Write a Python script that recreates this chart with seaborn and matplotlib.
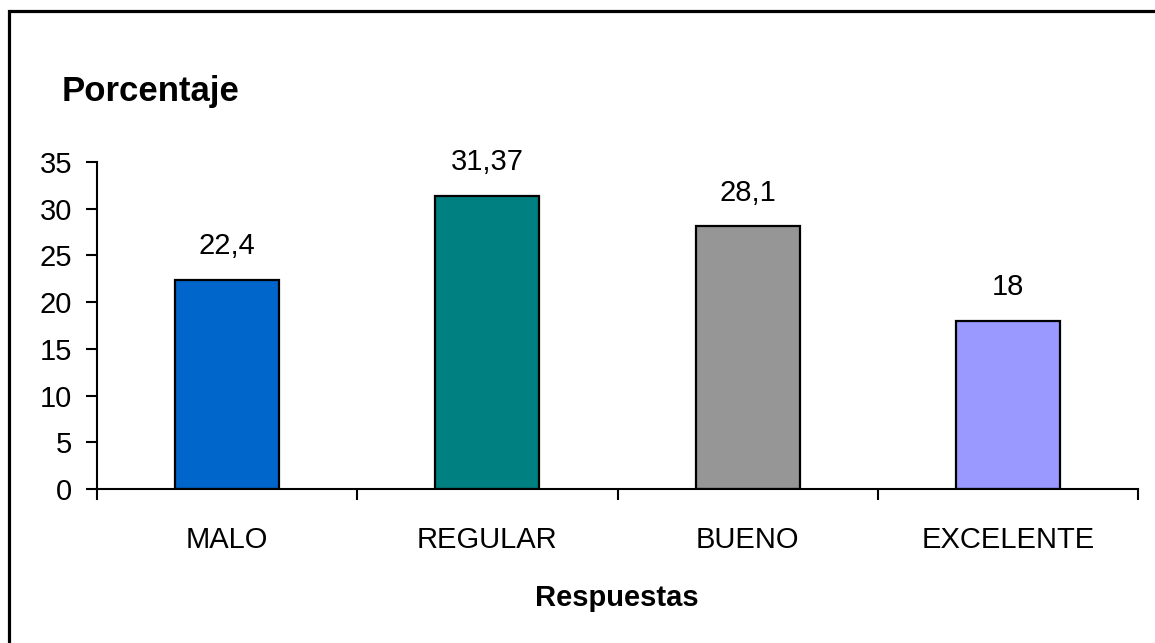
import matplotlib
matplotlib.use("Agg")
import matplotlib.pyplot as plt
import seaborn as sns
import pandas as pd
from matplotlib.patches import Rectangle
from matplotlib.ticker import FixedLocator, MultipleLocator

categories = ["MALO", "REGULAR", "BUENO", "EXCELENTE"]
values = [22.4, 31.37, 28.1, 18]
colors = ["#0066CC", "#008080", "#969696", "#9999FF"]
y_title = "Porcentaje"
x_title = "Respuestas"

sns.set_theme(style="white")
plt.rcParams["font.family"] = ["Liberation Sans", "DejaVu Sans"]

W, H, DPI = 1155, 643, 100
fig = plt.figure(figsize=(W / DPI, H / DPI), dpi=DPI)
fig.patch.set_facecolor("white")

ax = fig.add_axes([97 / W, 1 - 489 / H, (1138 - 97) / W, (489 - 162) / H])

df = pd.DataFrame({"cat": categories, "val": values})
sns.barplot(data=df, x="cat", y="val", hue="cat", palette=colors,
            width=0.4, edgecolor="black", linewidth=1.6, legend=False,
            saturation=1, ax=ax)

ax.set_xlim(-0.5, len(categories) - 0.5)
ax.set_ylim(0, 35)
ax.yaxis.set_major_locator(MultipleLocator(5))

# category labels without marks; marks at category boundaries
ax.tick_params(axis="x", which="major", length=0, pad=27, labelsize=21, colors="black")
ax.xaxis.set_minor_locator(FixedLocator([i - 0.5 for i in range(len(categories) + 1)]))
ax.tick_params(axis="x", which="minor", length=8, width=1.5, color="black", direction="out", bottom=True)
ax.tick_params(axis="y", which="major", length=8, width=1.5, color="black", direction="out",
               left=True, pad=10, labelsize=21, labelcolor="black")

for side in ["top", "right"]:
    ax.spines[side].set_visible(False)
for side in ["left", "bottom"]:
    ax.spines[side].set_color("black")
    ax.spines[side].set_linewidth(1.5)

ax.set_xlabel("")
ax.set_ylabel("")

for container in ax.containers:
    ax.bar_label(container, labels=[f"{b.get_height():g}".replace(".", ",") for b in container],
                 padding=14, fontsize=21, color="black")

fig.text(62 / W, 1 - 92 / H, y_title, ha="left", va="center",
         fontsize=25, fontweight="bold", color="black")
fig.text(617 / W, 1 - 598 / H, x_title, ha="center", va="center",
         fontsize=21, fontweight="bold", color="black")

# chart frame running off the right and bottom edges
fig.add_artist(Rectangle((8.5 / W, -0.1), 1.2, 1 - 10.5 / H + 0.1,
                         transform=fig.transFigure, fill=False,
                         edgecolor="black", linewidth=2.3))

fig.savefig("out.png", dpi=DPI, facecolor="white")
